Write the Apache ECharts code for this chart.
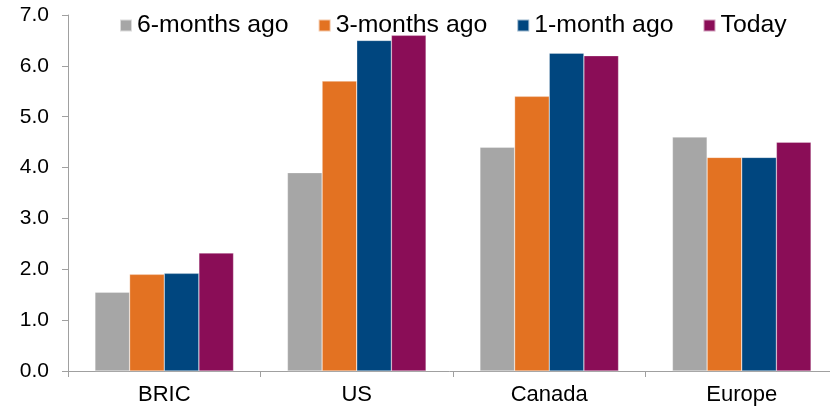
<!DOCTYPE html>
<html>
<head>
<meta charset="utf-8">
<script src="https://cdn.jsdelivr.net/npm/echarts@6/dist/echarts.min.js"></script>
<style>
html,body{margin:0;padding:0;background:#fff;}
#chart{width:830px;height:408px;}
</style>
</head>
<body>
<div id="chart"></div>
<script>
const categories = ['BRIC', 'US', 'Canada', 'Europe'];
const seriesNames = ['6-months ago', '3-months ago', '1-month ago', 'Today'];
const sixMonthsAgo = [1.55, 3.9, 4.4, 4.6];
const threeMonthsAgo = [1.9, 5.7, 5.4, 4.2];
const oneMonthAgo = [1.92, 6.5, 6.25, 4.2];
const today = [2.32, 6.6, 6.2, 4.5];
const colors = ['#A6A6A6', '#E37222', '#00467F', '#8A0D57'];
const yTicks = [0, 1, 2, 3, 4, 5, 6, 7];

const values = [sixMonthsAgo, threeMonthsAgo, oneMonthAgo, today];
const font = '"Liberation Sans", Arial, sans-serif';

const chart = echarts.init(document.getElementById('chart'), null, {renderer: 'canvas'});
chart.setOption({
  animation: false,
  backgroundColor: '#fff',
  color: colors,
  legend: {
    left: 114,
    top: 8,
    itemWidth: 12,
    itemHeight: 12,
    itemGap: 29,
    icon: 'rect',
    textStyle: {fontFamily: font, fontSize: 24.8, color: '#000'},
    data: seriesNames
  },
  grid: {left: 68, top: 15, width: 770, height: 356, containLabel: false, outerBoundsMode: 'none'},
  xAxis: {
    type: 'category',
    data: categories,
    axisLine: {lineStyle: {color: '#A0A0A0', width: 1}},
    axisTick: {show: true, length: 6, lineStyle: {color: '#A0A0A0'}},
    axisLabel: {fontFamily: font, fontSize: 22, color: '#000', margin: 13}
  },
  yAxis: {
    type: 'value',
    min: yTicks[0],
    max: yTicks[yTicks.length - 1],
    interval: 1,
    splitLine: {show: false},
    axisLine: {show: true, lineStyle: {color: '#A0A0A0', width: 1}},
    axisTick: {show: true, length: 6, lineStyle: {color: '#A0A0A0'}},
    axisLabel: {fontFamily: font, fontSize: 21, color: '#000', margin: 19,
      formatter: v => v.toFixed(1)}
  },
  series: seriesNames.map((name, i) => ({
    name: name,
    type: 'bar',
    data: values[i],
    barGap: '0%',
    barCategoryGap: '28%',
    itemStyle: {color: colors[i], borderColor: 'rgba(255,255,255,0.6)', borderWidth: 0.5}
  }))
});
</script>
</body>
</html>
